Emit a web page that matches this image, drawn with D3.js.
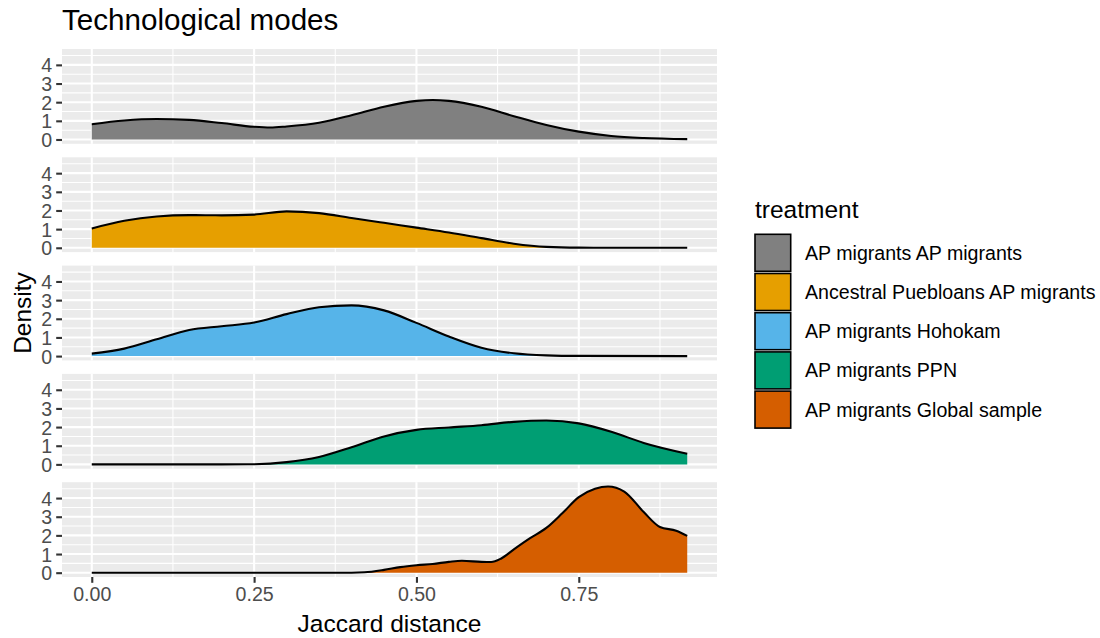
<!DOCTYPE html>
<html>
<head>
<meta charset="utf-8">
<script src="https://cdn.jsdelivr.net/npm/d3@7"></script>
<style>
  html, body { margin: 0; padding: 0; background: #ffffff; }
  svg { display: block; font-family: "Liberation Sans", Arial, sans-serif; }
</style>
</head>
<body>
<svg id="chart" width="1100" height="638"></svg>
<script>
// Treatment groups, in facet / legend order
const treatments = [
  "AP migrants AP migrants",
  "Ancestral Puebloans AP migrants",
  "AP migrants Hohokam",
  "AP migrants PPN",
  "AP migrants Global sample"
];
const fillColors = ["#808080", "#E69F00", "#56B4E9", "#009E73", "#D55E00"];

// Kernel density estimates of Jaccard distance (x = distance, y = density)
const densAPAP = [
  [0.00, 0.82], [0.05, 1.02], [0.10, 1.10], [0.15, 1.05], [0.20, 0.88],
  [0.25, 0.68], [0.275, 0.64], [0.30, 0.70], [0.35, 0.90], [0.40, 1.30],
  [0.45, 1.76], [0.50, 2.07], [0.525, 2.12], [0.55, 2.07], [0.60, 1.75],
  [0.65, 1.25], [0.70, 0.78], [0.75, 0.42], [0.80, 0.19], [0.85, 0.08],
  [0.917, 0.02]
];
const densAncestral = [
  [0.00, 1.04], [0.05, 1.45], [0.10, 1.68], [0.15, 1.75], [0.20, 1.74],
  [0.25, 1.78], [0.30, 1.95], [0.35, 1.86], [0.40, 1.60], [0.45, 1.34],
  [0.50, 1.08], [0.55, 0.82], [0.60, 0.52], [0.65, 0.22], [0.70, 0.05],
  [0.75, 0.01], [0.80, 0.004], [0.917, 0.0]
];
const densHohokam = [
  [0.00, 0.13], [0.05, 0.40], [0.10, 0.90], [0.15, 1.40], [0.20, 1.60],
  [0.25, 1.80], [0.30, 2.25], [0.35, 2.62], [0.40, 2.72], [0.45, 2.45],
  [0.50, 1.78], [0.55, 1.05], [0.60, 0.45], [0.65, 0.15], [0.70, 0.04],
  [0.75, 0.01], [0.917, 0.0]
];
const densPPN = [
  [0.00, 0.0], [0.20, 0.0], [0.25, 0.01], [0.30, 0.12], [0.35, 0.40],
  [0.40, 0.92], [0.45, 1.50], [0.50, 1.85], [0.55, 1.98], [0.60, 2.10],
  [0.65, 2.28], [0.70, 2.35], [0.75, 2.20], [0.80, 1.75], [0.85, 1.15],
  [0.917, 0.57]
];
const densGlobal = [
  [0.00, 0.0], [0.40, 0.0], [0.42, 0.02], [0.45, 0.15], [0.475, 0.30],
  [0.50, 0.40], [0.525, 0.47], [0.55, 0.58], [0.57, 0.64], [0.60, 0.58],
  [0.615, 0.57], [0.63, 0.75], [0.65, 1.25], [0.675, 1.85], [0.70, 2.40],
  [0.725, 3.20], [0.75, 4.05], [0.775, 4.50], [0.795, 4.62], [0.82, 4.35],
  [0.85, 3.25], [0.875, 2.45], [0.90, 2.25], [0.917, 1.97]
];
const densities = [densAPAP, densAncestral, densHohokam, densPPN, densGlobal];

const xTicks = [0, 0.25, 0.5, 0.75];
const xTickLabels = ["0.00", "0.25", "0.50", "0.75"];
const xMinor = [0.125, 0.375, 0.625, 0.875];
const yTicks = [0, 1, 2, 3, 4];
const yTickLabels = ["0", "1", "2", "3", "4"];
const yMinor = [0.5, 1.5, 2.5, 3.5, 4.5];

const titleText = "Technological modes";
const xTitle = "Jaccard distance";
const yTitle = "Density";
const legendTitle = "treatment";

// ---- layout ----
const svg = d3.select("#chart");
const panelLeft = 62, panelRight = 717;
const panelTop0 = 49, panelH = 94.8, panelPitch = 108.3;
const tickFont = "19.6px", titleFont = "24.5px";

const xMax = d3.max(densities, d => d3.max(d, p => p[0]));
const yMax = d3.max(densities, d => d3.max(d, p => p[1]));
const xPad = xMax * 0.05, yPad = yMax * 0.05;

const x = d3.scaleLinear().domain([-xPad, xMax + xPad]).range([panelLeft, panelRight]);

const tickCol = "#333333", labCol = "#4D4D4D";

densities.forEach((dens, i) => {
  const top = panelTop0 + i * panelPitch;
  const y = d3.scaleLinear().domain([-yPad, yMax + yPad]).range([top + panelH, top]);
  const g = svg.append("g");

  g.append("rect")
    .attr("x", panelLeft).attr("y", top)
    .attr("width", panelRight - panelLeft).attr("height", panelH)
    .attr("fill", "#EBEBEB");

  // grid
  g.selectAll(".ymin").data(yMinor).join("line")
    .attr("x1", panelLeft).attr("x2", panelRight)
    .attr("y1", d => y(d)).attr("y2", d => y(d))
    .attr("stroke", "#ffffff").attr("stroke-width", 1.05);
  g.selectAll(".xmin").data(xMinor).join("line")
    .attr("y1", top).attr("y2", top + panelH)
    .attr("x1", d => x(d)).attr("x2", d => x(d))
    .attr("stroke", "#ffffff").attr("stroke-width", 1.05);
  g.selectAll(".ymaj").data(yTicks).join("line")
    .attr("x1", panelLeft).attr("x2", panelRight)
    .attr("y1", d => y(d)).attr("y2", d => y(d))
    .attr("stroke", "#ffffff").attr("stroke-width", 2.1);
  g.selectAll(".xmaj").data(xTicks).join("line")
    .attr("y1", top).attr("y2", top + panelH)
    .attr("x1", d => x(d)).attr("x2", d => x(d))
    .attr("stroke", "#ffffff").attr("stroke-width", 2.1);

  // density area + upper outline
  const area = d3.area().x(d => x(d[0])).y0(y(0)).y1(d => y(d[1])).curve(d3.curveMonotoneX);
  const line = d3.line().x(d => x(d[0])).y(d => y(d[1])).curve(d3.curveMonotoneX);
  g.append("path").attr("d", area(dens)).attr("fill", fillColors[i]);
  g.append("path").attr("d", line(dens)).attr("fill", "none")
    .attr("stroke", "#000000").attr("stroke-width", 2.1).attr("stroke-linejoin", "round");

  // y axis
  const yAxis = d3.axisLeft(y).tickValues(yTicks)
    .tickFormat((d, k) => yTickLabels[k]).tickSize(5.8).tickPadding(4);
  const ya = g.append("g").attr("transform", `translate(${panelLeft},0)`).call(yAxis);
  ya.select(".domain").remove();
  ya.selectAll(".tick line").attr("stroke", tickCol).attr("stroke-width", 2.1);
  ya.selectAll(".tick text").attr("fill", labCol)
    .style("font-size", tickFont).style("font-family", "Liberation Sans, Arial, sans-serif")
    .attr("dy", "0.36em");

  if (i === densities.length - 1) {
    const xAxis = d3.axisBottom(x).tickValues(xTicks)
      .tickFormat((d, k) => xTickLabels[k]).tickSize(5.8).tickPadding(4);
    const xa = g.append("g").attr("transform", `translate(0,${top + panelH})`).call(xAxis);
    xa.select(".domain").remove();
    xa.selectAll(".tick line").attr("stroke", tickCol).attr("stroke-width", 2.1);
    xa.selectAll(".tick text").attr("fill", labCol)
      .style("font-size", tickFont).style("font-family", "Liberation Sans, Arial, sans-serif")
      .attr("dy", "0.71em");
  }
});

// titles
svg.append("text").attr("x", 62).attr("y", 30)
  .style("font-size", "29.6px").attr("fill", "#000").text(titleText);
svg.append("text").attr("x", (panelLeft + panelRight) / 2).attr("y", 632)
  .attr("text-anchor", "middle").style("font-size", titleFont).attr("fill", "#000").text(xTitle);
svg.append("text")
  .attr("transform", `translate(31,${(panelTop0 + 4 * panelPitch + panelH + panelTop0) / 2}) rotate(-90)`)
  .attr("text-anchor", "middle").style("font-size", titleFont).attr("fill", "#000").text(yTitle);

// legend
const lg = svg.append("g");
lg.append("text").attr("x", 755).attr("y", 218)
  .style("font-size", titleFont).attr("fill", "#000").text(legendTitle);
const keyTop = 234.3, keyPitch = 39.2, keyW = 35.7, keyH = 37;
treatments.forEach((t, i) => {
  const ky = keyTop + i * keyPitch;
  lg.append("rect").attr("x", 755).attr("y", ky).attr("width", keyW).attr("height", keyH)
    .attr("fill", fillColors[i]).attr("stroke", "#000").attr("stroke-width", 1.6);
  lg.append("text").attr("x", 805).attr("y", ky + keyH / 2).attr("dy", "0.36em")
    .style("font-size", tickFont).attr("fill", "#000").text(t);
});
</script>
</body>
</html>
